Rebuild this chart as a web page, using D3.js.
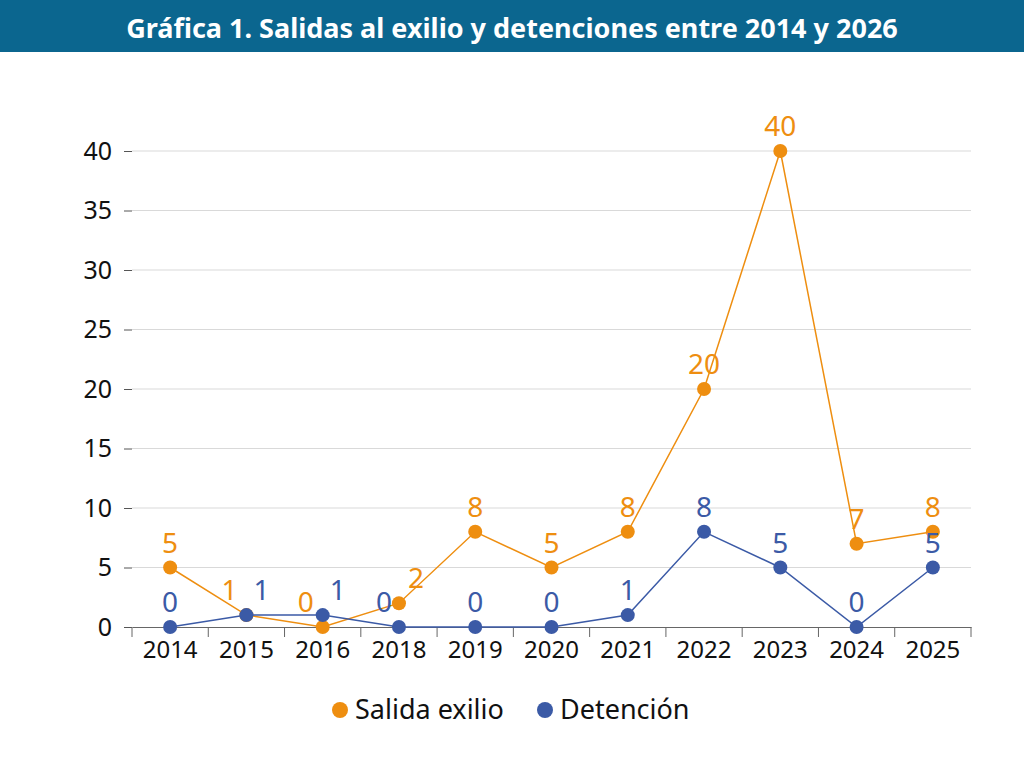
<!DOCTYPE html>
<html>
<head>
<meta charset="utf-8">
<script src="https://cdn.jsdelivr.net/npm/d3@7"></script>
<style>
  body { margin: 0; background: #fff; }
  text { font-family: "Noto Sans", sans-serif; }
</style>
</head>
<body>
<div id="chart"></div>
<script>
var years = ["2014", "2015", "2016", "2018", "2019", "2020", "2021", "2022", "2023", "2024", "2025"];
var salida = [5, 1, 0, 2, 8, 5, 8, 20, 40, 7, 8];
var detencion = [0, 1, 1, 0, 0, 0, 1, 8, 5, 0, 5];
var yTicks = [0, 5, 10, 15, 20, 25, 30, 35, 40];
// horizontal nudges for labels that would collide
var salidaShift = [0, -17, -17, 17, 0, 0, 0, 0, 0, 0, 0];
var detencionShift = [0, 15, 15, -15, 0, 0, 0, 0, 0, 0, 0];

var orange = "#ee8e10";
var blue = "#3b5aa6";

var svg = d3.select("#chart").append("svg")
  .attr("width", 1024).attr("height", 767);

svg.append("rect").attr("width", 1024).attr("height", 52).attr("fill", "#0b668f");
svg.append("text").attr("x", 512).attr("y", 38)
  .attr("text-anchor", "middle").attr("fill", "#fff")
  .attr("font-size", 27).attr("font-weight", "bold")
  .text("Gráfica 1. Salidas al exilio y detenciones entre 2014 y 2026");

var x = d3.scaleBand().domain(years).range([132, 971]);
var y = d3.scaleLinear().domain([0, 40]).range([627, 151]);
var cx = d => x(d) + x.bandwidth() / 2;

// grid
svg.append("g").selectAll("line").data(yTicks.slice(1)).enter().append("line")
  .attr("x1", 132).attr("x2", 971)
  .attr("y1", d => y(d)).attr("y2", d => y(d))
  .attr("stroke", "#d9d9d9");

var yAxis = svg.append("g").attr("transform", "translate(132,0)")
  .call(d3.axisLeft(y).tickValues(yTicks).tickSize(8).tickPadding(12));
yAxis.select(".domain").remove();
yAxis.selectAll("line").attr("stroke", "#555");
yAxis.selectAll("text").attr("font-size", 25).attr("fill", "#111");

var xAxis = svg.append("g").attr("transform", "translate(0,627)")
  .call(d3.axisBottom(x).tickSize(0).tickPadding(14));
xAxis.select(".domain").attr("stroke", "#666");
xAxis.selectAll("text").attr("font-size", 24).attr("fill", "#111");
// band boundary ticks
svg.append("g").selectAll("line").data(d3.range(years.length + 1)).enter().append("line")
  .attr("x1", i => 132 + i * x.bandwidth()).attr("x2", i => 132 + i * x.bandwidth())
  .attr("y1", 627).attr("y2", 637).attr("stroke", "#666");

function series(vals, color, shift) {
  var g = svg.append("g");
  g.append("path").datum(vals)
    .attr("fill", "none").attr("stroke", color).attr("stroke-width", 1.5)
    .attr("d", d3.line().x((d, i) => cx(years[i])).y(d => y(d)));
  g.selectAll("circle").data(vals).enter().append("circle")
    .attr("cx", (d, i) => cx(years[i])).attr("cy", d => y(d))
    .attr("r", 7).attr("fill", color);
  g.selectAll("text").data(vals).enter().append("text")
    .attr("x", (d, i) => cx(years[i]) + shift[i]).attr("y", d => y(d) - 15)
    .attr("text-anchor", "middle").attr("font-size", 28).attr("fill", color)
    .text(d => d);
}
series(salida, orange, salidaShift);
series(detencion, blue, detencionShift);

// legend
var legend = [["Salida exilio", orange, 340], ["Detención", blue, 545]];
legend.forEach(function (l) {
  svg.append("circle").attr("cx", l[2]).attr("cy", 710).attr("r", 8).attr("fill", l[1]);
  svg.append("text").attr("x", l[2] + 15).attr("y", 719)
    .attr("font-size", 27).attr("fill", "#111").text(l[0]);
});
</script>
</body>
</html>
